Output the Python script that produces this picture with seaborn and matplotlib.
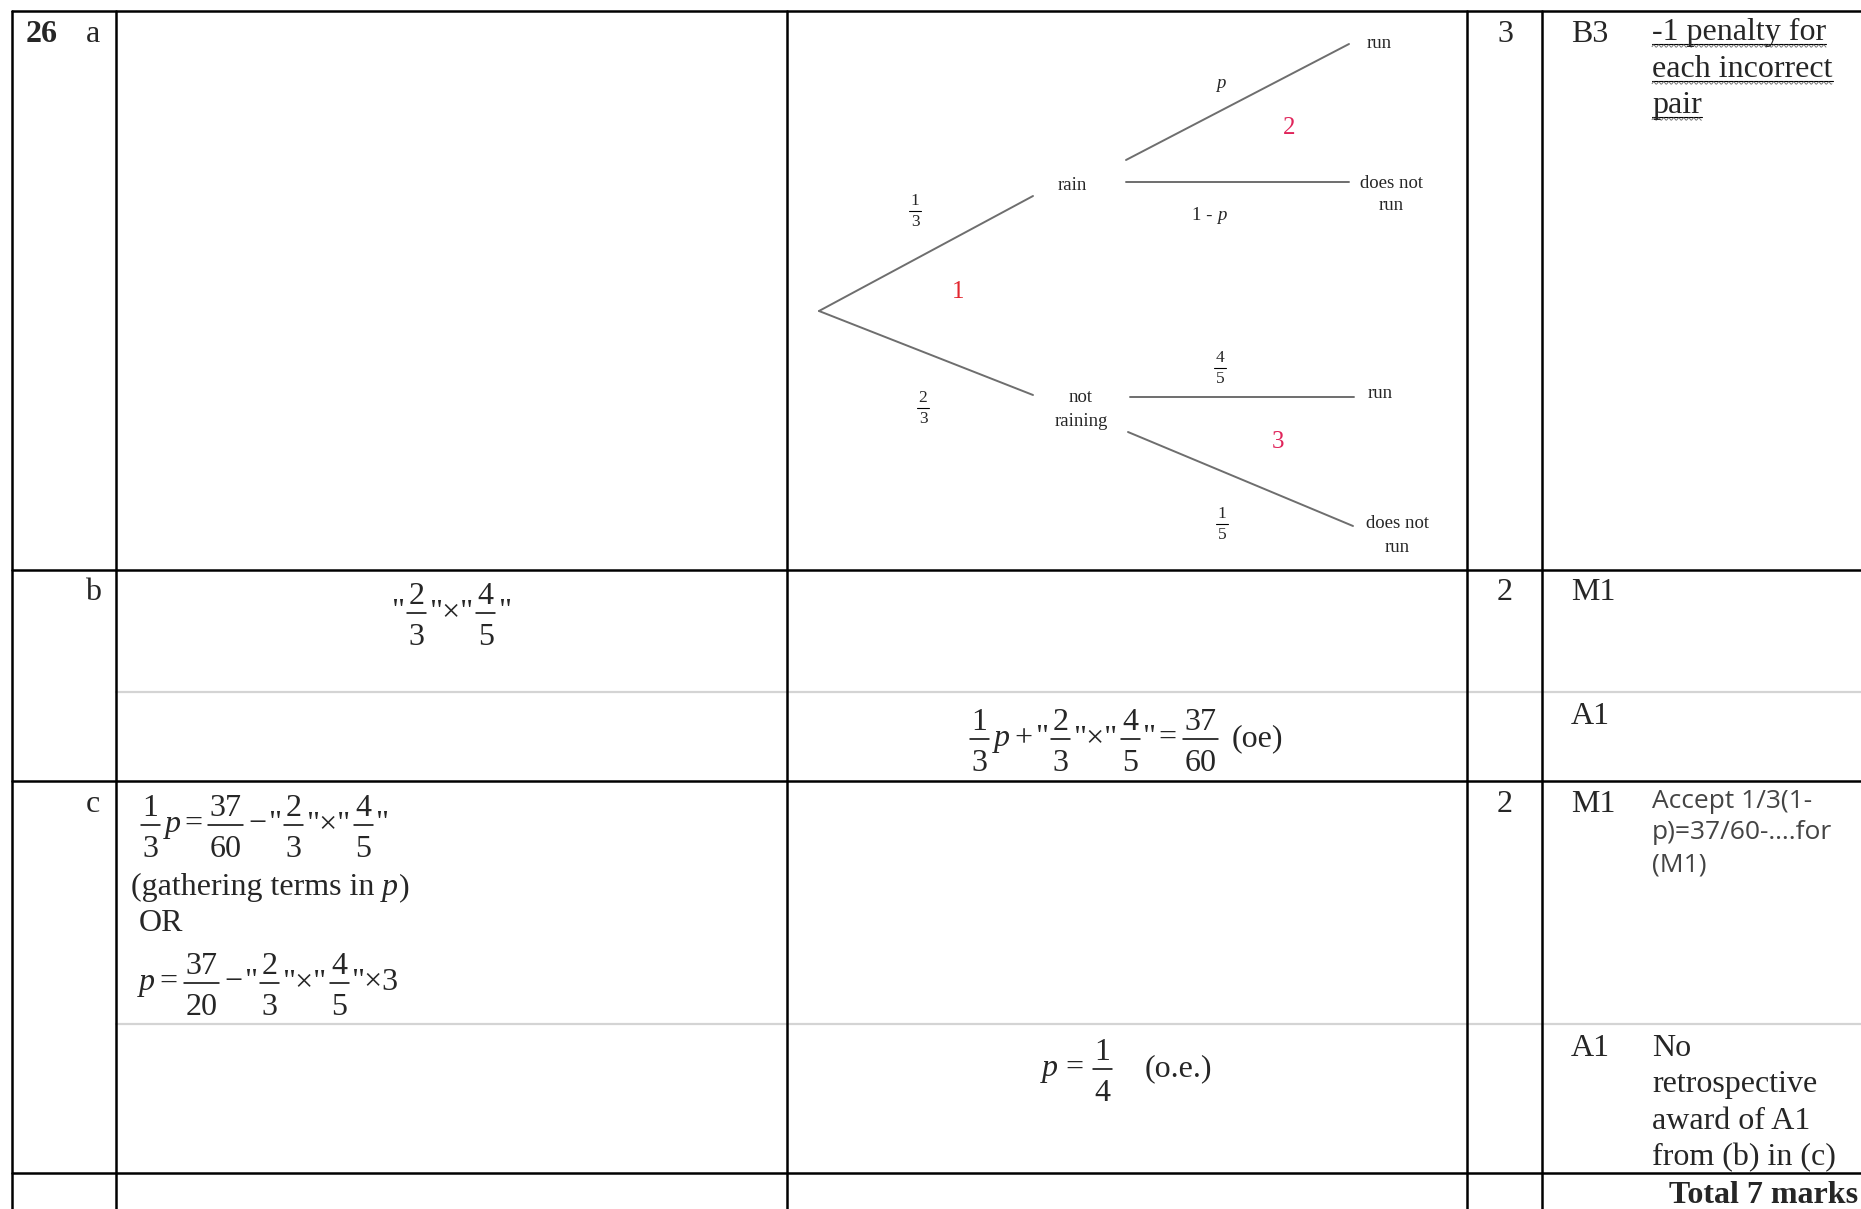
import numpy as np
import pandas as pd
import seaborn as sns
import matplotlib
matplotlib.use("Agg")
import matplotlib.pyplot as plt

W, H = 1861, 1209

# Table grid (pixel positions) ------------------------------------------------
col_x = [12, 116, 787, 1467, 1542]
row_black = [11, 570, 781, 1173]
row_grey = [692, 1024]

# Tree diagram ----------------------------------------------------------------
branch_x0 = [819, 819, 1126, 1126, 1130, 1128]
branch_y0 = [311, 311, 160, 182, 397, 432]
branch_x1 = [1033, 1033, 1349, 1349, 1354, 1353]
branch_y1 = [196, 395, 44, 182, 397, 526]

node_text = ["rain", "not", "raining", "run", "does not", "run", "run", "does not", "run"]
node_x = [1072, 1081, 1081, 1379, 1391, 1391, 1380, 1397, 1397]
node_y = [185, 398, 421, 43, 183, 206, 393, 523, 547]

prob_num = ["1", "2", "4", "1"]
prob_den = ["3", "3", "5", "5"]
prob_x = [915, 923, 1220, 1222]
prob_y = [211, 408, 368, 524]

marker_text = ["1", "2", "3"]
marker_x = [958, 1289, 1278]
marker_y = [292, 128, 442]
marker_col = ["#e2262f", "#e0245a", "#e0245a"]

# Mark scheme text ------------------------------------------------------------
marks_col = ["3", "2", "2"]
marks_y = [42, 600, 812]
codes = ["B3", "M1", "A1", "M1", "A1"]
codes_y = [42, 600, 724, 812, 1056]
part_labels = ["a", "b", "c"]
part_y = [42, 600, 812]
penalty_lines = ["-1 penalty for", "each incorrect", "pair"]
penalty_y = [40, 77, 113]
accept_lines = ["Accept 1/3(1-", "p)=37/60-\u2026.for", "(M1)"]
accept_y = [808, 839, 871]
retro_lines = ["No", "retrospective", "award of A1", "from (b) in (c)"]
retro_y = [1056, 1092, 1129, 1165]

FS = 23

sns.set_theme(style="white")
plt.rcParams["font.family"] = ["Liberation Serif", "DejaVu Serif"]

fig = plt.figure(figsize=(W / 100, H / 100), dpi=100)
ax = fig.add_axes([0, 0, 1, 1])

# tree branches drawn through seaborn
seg = pd.DataFrame({
    "x": branch_x0 + branch_x1,
    "y": branch_y0 + branch_y1,
    "branch": list(range(6)) * 2,
})
sns.lineplot(data=seg, x="x", y="y", units="branch", estimator=None,
             color="#6e6e6e", lw=1.4, ax=ax, sort=False, legend=False)
ax.set_xlim(0, W)
ax.set_ylim(H, 0)
ax.axis("off")

# grid lines
for y in row_grey:
    ax.plot([col_x[1], W], [y, y], color="#d4d4d4", lw=1.6, zorder=1)
for y in row_black:
    ax.plot([col_x[0], W], [y, y], color="black", lw=1.8, zorder=2)
for x in col_x:
    ax.plot([x, x], [row_black[0], H], color="black", lw=1.8, zorder=2)

for t, x, y in zip(node_text, node_x, node_y):
    ax.text(x, y, t, fontsize=13.5, ha="center", va="center")
ax.text(1221, 83, "p", fontsize=13.5, style="italic", ha="center", va="center")
ax.text(1217, 216, "1 - ", fontsize=13.5, ha="right", va="center")
ax.text(1217, 216, "p", fontsize=13.5, style="italic", ha="left", va="center")
for n, d, x, y in zip(prob_num, prob_den, prob_x, prob_y):
    ax.text(x, y - 2, n, fontsize=12.5, ha="center", va="bottom")
    ax.text(x, y + 3, d, fontsize=12.5, ha="center", va="top")
    ax.plot([x - 6, x + 6], [y, y], color="black", lw=0.8)
for t, x, y, c in zip(marker_text, marker_x, marker_y, marker_col):
    ax.text(x, y, t, fontsize=18, color=c, ha="center", va="center")

# plain table text
ax.text(26, 42, "26", fontsize=FS, weight="bold", ha="left", va="baseline")
for t, y in zip(part_labels, part_y):
    ax.text(93, y, t, fontsize=FS, ha="center", va="baseline")
for t, y in zip(marks_col, marks_y):
    ax.text(1505, y, t, fontsize=FS, ha="center", va="baseline")
for t, y in zip(codes, codes_y):
    ax.text(1571, y, t, fontsize=FS, ha="left", va="baseline")
for t, y in zip(retro_lines, retro_y):
    ax.text(1652, y, t, fontsize=FS, ha="left", va="baseline")
for t, y in zip(accept_lines, accept_y):
    ax.text(1652, y, t, fontsize=19, ha="left", va="baseline",
            family=["Open Sans", "DejaVu Sans"], color="#444444")
ax.text(1858, 1203, "Total 7 marks", fontsize=FS, weight="bold",
        ha="right", va="baseline")
g = ax.text(131, 895, "(gathering terms in ", fontsize=FS, ha="left", va="baseline")
ax.text(139, 931, "OR", fontsize=FS, ha="left", va="baseline")

fig.canvas.draw()
R = fig.canvas.get_renderer()


def width(t):
    return t.get_window_extent(R).width


# "(gathering terms in p)"
gx = 131 + width(g)
tp = ax.text(gx, 895, "p", fontsize=FS, style="italic", ha="left", va="baseline")
ax.text(gx + width(tp) + 1, 895, ")", fontsize=FS, ha="left", va="baseline")

# spell-check underlines
for t, y in zip(penalty_lines, penalty_y):
    tt = ax.text(1652, y, t, fontsize=FS, ha="left", va="baseline")
    w = width(tt)
    ax.plot([1652, 1652 + w], [y + 4, y + 4], color="black", lw=0.8)
    xs = np.arange(1652, 1652 + w, 0.5)
    ax.plot(xs, y + 6 + 1.2 * np.sin(xs * 2 * np.pi / 5), color="#666666", lw=0.6)


def expr(x0, bar, parts, fs=FS, center=False):
    items = []
    for p in parts:
        if isinstance(p, (int, float)):
            items.append(("gap", p))
        elif isinstance(p, tuple):
            n = ax.text(0, 0, p[0], fontsize=fs, ha="center", va="baseline")
            d = ax.text(0, 0, p[1], fontsize=fs, ha="center", va="baseline")
            items.append(("frac", n, d, max(width(n), width(d)) + 9))
        else:
            st = "italic" if p == "p" else "normal"
            t = ax.text(0, 0, p, fontsize=fs, ha="left", va="baseline", style=st)
            items.append(("txt", t, width(t)))
    total = sum(it[-1] if it[0] != "gap" else it[1] for it in items)
    x = x0 - total / 2 if center else x0
    for it in items:
        if it[0] == "gap":
            x += it[1]
        elif it[0] == "frac":
            _, n, d, w = it
            n.set_position((x + w / 2, bar - 9))
            d.set_position((x + w / 2, bar + 32))
            ax.plot([x + 3, x + w - 3], [bar, bar], color="black", lw=1.1)
            x += w
        else:
            _, t, w = it
            t.set_position((x, bar + 7))
            x += w


Q = '"'
X = '"\u00d7"'
expr(451, 613, [Q, ("2", "3"), X, ("4", "5"), Q], center=True)
expr(967, 739, [("1", "3"), 2, "p", 4, "+", 3, Q, ("2", "3"), X, ("4", "5"), Q,
                3, "=", 3, ("37", "60"), 11, "(oe)"])
expr(138, 825, [("1", "3"), 2, "p", 3, "=", 3, ("37", "60"), 2, "\u2212", 2, Q,
                ("2", "3"), X, ("4", "5"), Q])
expr(139, 983, ["p", 4, "=", 4, ("37", "20"), 2, "\u2212", 2, Q, ("2", "3"),
                X, ("4", "5"), '"\u00d73'])
expr(1042, 1069, ["p", 7, "=", 7, ("1", "4"), 30, "(o.e.)"])

fig.savefig("out.png", dpi=100)
